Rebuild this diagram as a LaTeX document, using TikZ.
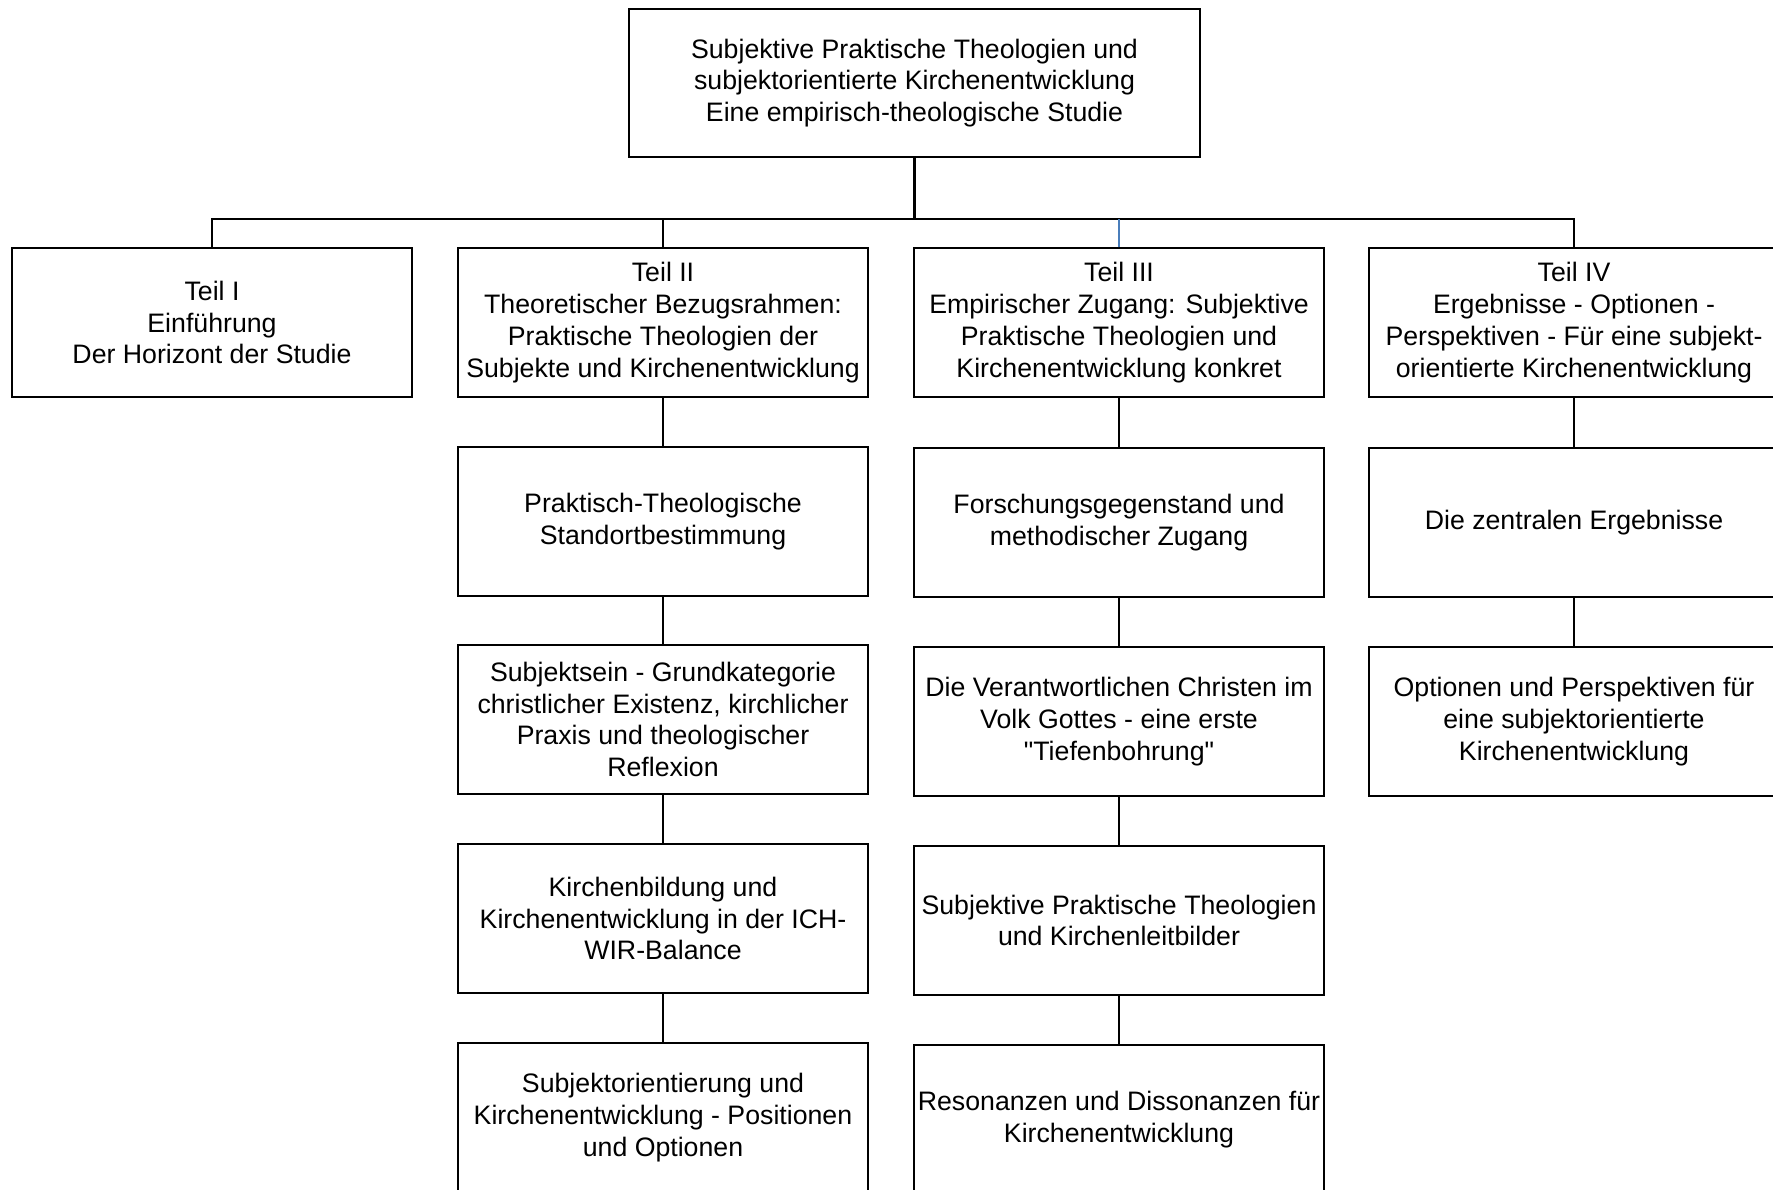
\documentclass[tikz,border=0pt]{standalone}
\usepackage{fontspec}
\setmainfont{Liberation Sans}
\newfontfamily\plainsans{Liberation Sans}
\begin{document}
\begin{tikzpicture}[x=0.02cm,y=-0.02cm,
  box/.style={draw=black,line width=0.8pt,fill=white,rectangle,inner sep=0pt,align=center,
    minimum width=8.2cm,minimum height=2.98cm,font=\plainsans\fontsize{15.2}{18.1}\selectfont},
  link/.style={draw=black,line width=0.8pt},
  bluelink/.style={draw={rgb,255:red,74;green,126;blue,187},line width=0.8pt}]
\useasboundingbox (0,0) rectangle (1773,1189);
\clip (0,0) rectangle (1773,1189);
\fill[white] (0,0) rectangle (1773,1189);
% top
\node[box,minimum width=11.42cm,minimum height=2.96cm] (top) at (914.5,83)
  {Subjektive Praktische Theologien und\\subjektorientierte Kirchenentwicklung\\Eine empirisch-theologische Studie};
% row 1
\node[box,minimum width=8cm] (t1) at (212,322.5) {Teil I\\Einführung\\Der Horizont der Studie};
\node[box] (t2) at (663,322.5) {Teil II\\Theoretischer Bezugsrahmen:\\Praktische Theologien der\\Subjekte und Kirchenentwicklung};
\node[box] (t3) at (1119,322.5) {Teil III\\Empirischer Zugang: Subjektive\\Praktische Theologien und\\Kirchenentwicklung konkret};
\node[box] (t4) at (1574,322.5) {Teil IV\\Ergebnisse - Optionen -\\Perspektiven - Für eine subjekt-\\orientierte Kirchenentwicklung};
% column II
\node[box] (a1) at (663,521.5) {Praktisch-Theologische\\Standortbestimmung};
\node[box] (a2) at (663,719.5) {Subjektsein - Grundkategorie\\christlicher Existenz, kirchlicher\\Praxis und theologischer\\Reflexion};
\node[box] (a3) at (663,918.5) {Kirchenbildung und\\Kirchenentwicklung in der ICH-\\WIR-Balance};
\node[box] (a4) at (663,1117.5) {Subjektorientierung und\\Kirchenentwicklung - Positionen\\und Optionen};
% column III
\node[box] (b1) at (1119,522.5) {Forschungsgegenstand und\\methodischer Zugang};
\node[box] (b2) at (1119,721.5) {Die Verantwortlichen Christen im\\Volk Gottes - eine erste\\"Tiefenbohrung"};
\node[box] (b3) at (1119,920.5) {Subjektive Praktische Theologien\\und Kirchenleitbilder};
\node[box] (b4) at (1119,1119.5) {Resonanzen und Dissonanzen für\\Kirchenentwicklung};
% column IV
\node[box] (c1) at (1574,522.5) {Die zentralen Ergebnisse};
\node[box] (c2) at (1574,721.5) {Optionen und Perspektiven für\\eine subjektorientierte\\Kirchenentwicklung};
% connectors
\coordinate (bar) at (914.5,219);
\draw[link,line width=1.2pt] (top.south) -- (bar);
\draw[link] (t1.north) |- (t4.north |- bar) -- (t4.north);
\draw[link] (t2.north) -- (t2.north |- bar);
\draw[bluelink] (t3.north) -- (t3.north |- bar);
\draw[link] (t2) -- (a1); \draw[link] (a1) -- (a2); \draw[link] (a2) -- (a3); \draw[link] (a3) -- (a4);
\draw[link] (t3) -- (b1); \draw[link] (b1) -- (b2); \draw[link] (b2) -- (b3); \draw[link] (b3) -- (b4);
\draw[link] (t4) -- (c1); \draw[link] (c1) -- (c2);
\end{tikzpicture}
\end{document}
